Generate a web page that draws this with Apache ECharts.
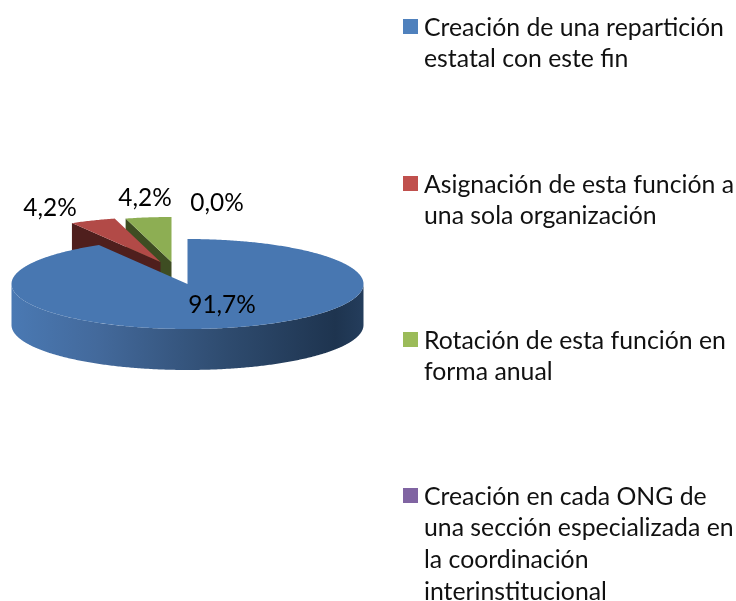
<!DOCTYPE html>
<html>
<head>
<meta charset="utf-8">
<style>html,body{margin:0;padding:0;background:#fff}#c{width:736px;height:601px}</style>
<script src="https://cdn.jsdelivr.net/npm/echarts@6/dist/echarts.min.js"></script>
</head>
<body>
<div id="c"></div>
<script>
const categories = [
  'Creación de una repartición estatal con este fin',
  'Asignación de esta función a una sola organización',
  'Rotación de esta función en forma anual',
  'Creación en cada ONG de una sección especializada en la coordinación interinstitucional'
];
const values = [91.7, 4.2, 4.2, 0.0];
const legendLines = [
  ['Creación de una repartición', 'estatal con este fin'],
  ['Asignación de esta función a', 'una sola organización'],
  ['Rotación de esta función en', 'forma anual'],
  ['Creación en cada ONG de', 'una sección especializada en', 'la coordinación', 'interinstitucional']
];
const legendColors = ['#4F81BD', '#C0504D', '#9BBB59', '#8064A2'];
const topColors = ['#4877B1', '#B24A47', '#8DAE53', '#77609A'];
const faceColors = ['#1F3550', '#4F1F1D', '#3E4D22', '#33264A'];

// layout (pixels)
const PIE = { cx: 187.5, cy: 284, rx: 176, ry: 45, depth: 41 };
const explode = [[0, 0], [-27, -22], [-16, -22], [-16, -22]];
const labelAt = [[222, 305], [50, 208], [145, 198], [217, 203]];
const legendTop = [12, 169, 325, 481];
const LINE = 31.6;
const FONT = 'Lato, Carlito, sans-serif';
const FS = 24.8;
const LABEL_FS = 24.4;

const total = values.reduce((a, b) => a + b, 0);
function startAngle(i) {
  return values.slice(0, i).reduce((a, b) => a + b, 0) / total * Math.PI * 2;
}
function rim(i, a) {
  return [PIE.cx + explode[i][0] + PIE.rx * Math.sin(a), PIE.cy + explode[i][1] - PIE.ry * Math.cos(a)];
}
function arc(i, a0, a1) {
  const n = Math.max(2, Math.ceil((a1 - a0) / 0.01));
  const pts = [];
  for (let k = 0; k <= n; k++) pts.push(rim(i, a0 + (a1 - a0) * k / n));
  return pts;
}
function fmt(v) { return v.toFixed(1).replace('.', ',') + '%'; }

function renderSlice(i) {
  return function (params, api) {
    const v = api.value(0);
    const a0 = startAngle(i);
    const a1 = a0 + v / total * Math.PI * 2;
    const apex = [PIE.cx + explode[i][0], PIE.cy + explode[i][1]];
    const children = [];
    if (v > 0) {
      // inner cut face at the start of the slice
      const s = rim(i, a0);
      children.push({
        type: 'polygon',
        shape: { points: [s, apex, [apex[0], apex[1] + PIE.depth], [s[0], s[1] + PIE.depth]] },
        style: { fill: faceColors[i] }
      });
      // outer wall: only the front half of the ellipse is visible
      const f0 = Math.max(a0, Math.PI / 2), f1 = Math.min(a1, Math.PI * 1.5);
      if (f1 > f0) {
        const front = arc(i, f0, f1);
        const back = front.slice().reverse().map(p => [p[0], p[1] + PIE.depth]);
        children.push({
          type: 'polygon',
          shape: { points: front.concat(back) },
          style: {
            fill: new echarts.graphic.LinearGradient(0, 0, 1, 0, [
              { offset: 0, color: '#4A79B3' },
              { offset: 0.25, color: '#43699B' },
              { offset: 0.6, color: '#2F4C70' },
              { offset: 0.92, color: '#1E344F' },
              { offset: 1, color: '#243D5C' }
            ])
          }
        });
      }
      // top surface
      children.push({
        type: 'polygon',
        shape: { points: [apex].concat(arc(i, a0, a1)) },
        style: { fill: topColors[i] }
      });
    }
    children.push({
      type: 'text',
      style: {
        text: fmt(v), x: labelAt[i][0], y: labelAt[i][1],
        align: 'center', verticalAlign: 'middle',
        fontFamily: FONT, fontSize: LABEL_FS, fill: '#000'
      }
    });
    return { type: 'group', children };
  };
}

// back-to-front drawing order
const drawOrder = [3, 2, 1, 0];
const series = drawOrder.map(i => ({
  type: 'custom',
  name: categories[i],
  coordinateSystem: 'none',
  silent: true,
  animation: false,
  itemStyle: { color: legendColors[i] },
  data: [[values[i]]],
  renderItem: renderSlice(i)
}));

const legend = categories.map((name, i) => {
  const h = legendLines[i].length * LINE;
  return {
    data: [{
      name,
      // square sits beside the first line of the wrapped text block
      icon: 'path://M0 0L16 0ZM0 7H15V22H0ZM0 ' + h + 'L16 ' + h + 'Z',
      itemStyle: { color: legendColors[i] }
    }],
    left: 403, top: legendTop[i], padding: 0, itemWidth: 16, itemHeight: h,
    selectedMode: false,
    formatter: () => legendLines[i].join('\n'),
    textStyle: { fontFamily: FONT, fontSize: FS, color: '#111', lineHeight: LINE }
  };
});

const chart = echarts.init(document.getElementById('c'), null, { renderer: 'canvas' });
chart.setOption({ animation: false, backgroundColor: '#fff', tooltip: { show: false }, legend, series });
</script>
</body>
</html>
